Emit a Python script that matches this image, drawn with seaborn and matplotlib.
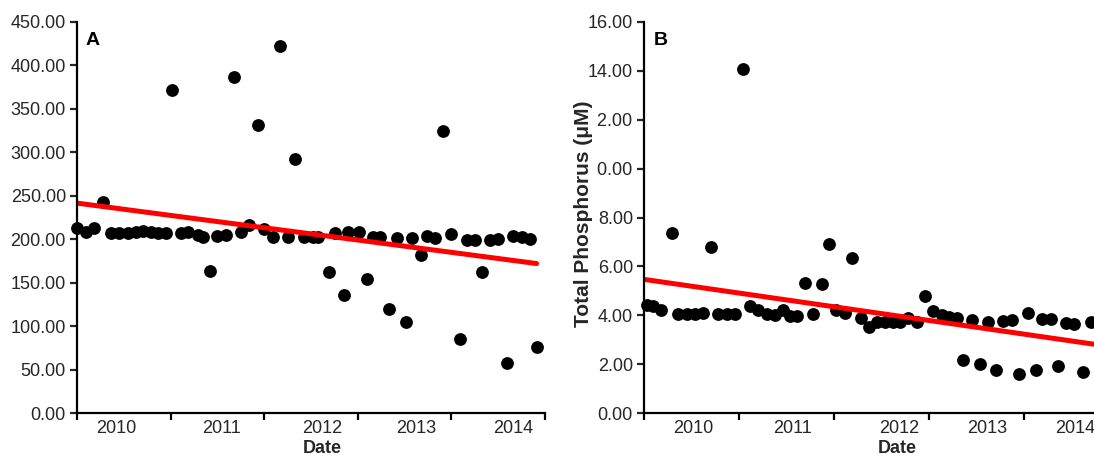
import numpy as np
import pandas as pd
import matplotlib
matplotlib.use("Agg")
import matplotlib.pyplot as plt
import seaborn as sns

# panel A: time in years from start of record, values
t_a = [0.00, 0.10, 0.18, 0.28, 0.36, 0.45, 0.54, 0.63, 0.70, 0.79, 0.87, 0.95,
       1.01, 1.11, 1.19, 1.29, 1.35, 1.42, 1.50, 1.59, 1.68, 1.75, 1.84, 1.93,
       2.00, 2.09, 2.17, 2.25, 2.33, 2.42, 2.52, 2.58, 2.69, 2.76, 2.85, 2.90,
       3.01, 3.10, 3.16, 3.24, 3.33, 3.42, 3.51, 3.58, 3.68, 3.74, 3.83, 3.91,
       4.00, 4.09, 4.17, 4.25, 4.33, 4.41, 4.50, 4.59, 4.66, 4.75, 4.84, 4.91]
val_a = [213, 208, 213, 243, 207, 207, 207, 208, 210, 208, 207, 207,
         372, 207, 208, 205, 203, 163, 204, 205, 387, 208, 216, 331,
         212, 203, 422, 203, 292, 203, 202, 202, 162, 207, 136, 208,
         208, 154, 203, 203, 120, 201, 105, 201, 182, 204, 201, 325,
         206, 85, 199, 199, 162, 199, 200, 57, 204, 203, 200, 76]

# panel B: total phosphorus (uM)
t_b = [0.03, 0.09, 0.18, 0.29, 0.36, 0.45, 0.54, 0.62, 0.71, 0.78, 0.87, 0.96,
       1.04, 1.12, 1.20, 1.29, 1.38, 1.46, 1.54, 1.61, 1.69, 1.78, 1.87, 1.95,
       2.02, 2.12, 2.19, 2.28, 2.37, 2.45, 2.54, 2.62, 2.69, 2.78, 2.87, 2.96,
       3.04, 3.14, 3.21, 3.29, 3.36, 3.45, 3.54, 3.62, 3.71, 3.78, 3.87, 3.95,
       4.04, 4.13, 4.19, 4.28, 4.36, 4.44, 4.53, 4.62, 4.71]
val_b = [4.42, 4.38, 4.20, 7.37, 4.05, 4.05, 4.05, 4.10, 6.80, 4.05, 4.05, 4.05,
         14.07, 4.38, 4.20, 4.05, 4.00, 4.20, 3.97, 3.97, 5.30, 4.05, 5.28, 6.90,
         4.20, 4.10, 6.34, 3.90, 3.52, 3.72, 3.72, 3.72, 3.72, 3.89, 3.72, 4.79,
         4.17, 4.00, 3.93, 3.89, 2.17, 3.80, 2.00, 3.72, 1.76, 3.76, 3.80, 1.60,
         4.10, 1.76, 3.85, 3.85, 1.92, 3.68, 3.64, 1.68, 3.72]

year_labels = ["2010", "2011", "2012", "2013", "2014"]
year_pos_a = [0.42, 1.54, 2.62, 3.62, 4.66]
year_pos_b = [0.52, 1.56, 2.69, 3.61, 4.54]

df_a = pd.DataFrame({"t": t_a, "v": val_a})
df_b = pd.DataFrame({"t": t_b, "v": val_b})

sns.set_style("ticks")
plt.rcParams["font.family"] = ["Liberation Sans", "DejaVu Sans"]
txt = "#262626"

fig = plt.figure(figsize=(10.94, 4.57), dpi=100)
W, H = 1094, 457
ax_a = fig.add_axes([77 / W, 44 / H, 468 / W, 391 / H])
ax_b = fig.add_axes([644 / W, 44 / H, 475 / W, 391 / H])

scat = dict(s=85, color="black", linewidths=0, clip_on=False, alpha=1)
line = dict(color="#ff0000", lw=3.6)


def style(ax, ymax, ystep, xlab_pos):
    ax.set_xlim(0, 5)
    ax.set_ylim(0, ymax)
    ax.set_yticks(np.arange(0, ymax + ystep / 2, ystep))
    ax.yaxis.set_major_formatter(matplotlib.ticker.FormatStrFormatter("%.2f"))
    ax.set_xticks(range(6))
    ax.set_xticklabels([])
    ax.set_xticks(xlab_pos, minor=True)
    ax.set_xticklabels(year_labels, minor=True)
    ax.tick_params(axis="x", which="minor", length=0, pad=5, labelsize=13, labelcolor=txt)
    ax.tick_params(axis="x", which="major", length=5, width=1.6, color="black")
    ax.tick_params(axis="y", length=5, width=1.6, labelsize=13, labelcolor=txt, pad=3)
    for s in ["left", "bottom"]:
        ax.spines[s].set_linewidth(1.6)
        ax.spines[s].set_color("black")
    sns.despine(ax=ax)


style(ax_a, 450, 50, year_pos_a)
sns.regplot(data=df_a, x="t", y="v", ax=ax_a, ci=None, truncate=True,
            scatter_kws=scat, line_kws=line)
ax_a.set_ylim(0, 450)
ax_a.set_ylabel("")
ax_a.set_xlabel("Date", fontsize=13, fontweight="bold", color=txt)
ax_a.xaxis.set_label_coords(0.523, -0.068)
ax_a.text(0.034, 0.952, "A", transform=ax_a.transAxes, fontsize=14,
          fontweight="bold", ha="center", va="center", color="black")

style(ax_b, 16, 2, year_pos_b)
sns.regplot(data=df_b, x="t", y="v", ax=ax_b, ci=None, truncate=False,
            scatter_kws=scat, line_kws=line)
ax_b.set_xlim(0, 5)
ax_b.set_ylim(0, 16)
ax_b.set_xlabel("Date", fontsize=13, fontweight="bold", color=txt)
ax_b.xaxis.set_label_coords(0.533, -0.068)
# the label sits over the leading digit of two tick labels, as in the original
ax_b.set_ylabel("Total Phosphorus (μM)", fontsize=15, fontweight="bold", color=txt,
                bbox=dict(facecolor="white", edgecolor="none", pad=3))
ax_b.yaxis.set_label_coords(-0.107, 0.51)
ax_b.text(0.036, 0.952, "B", transform=ax_b.transAxes, fontsize=14,
          fontweight="bold", ha="center", va="center", color="black")

fig.savefig("out.png", dpi=100)
